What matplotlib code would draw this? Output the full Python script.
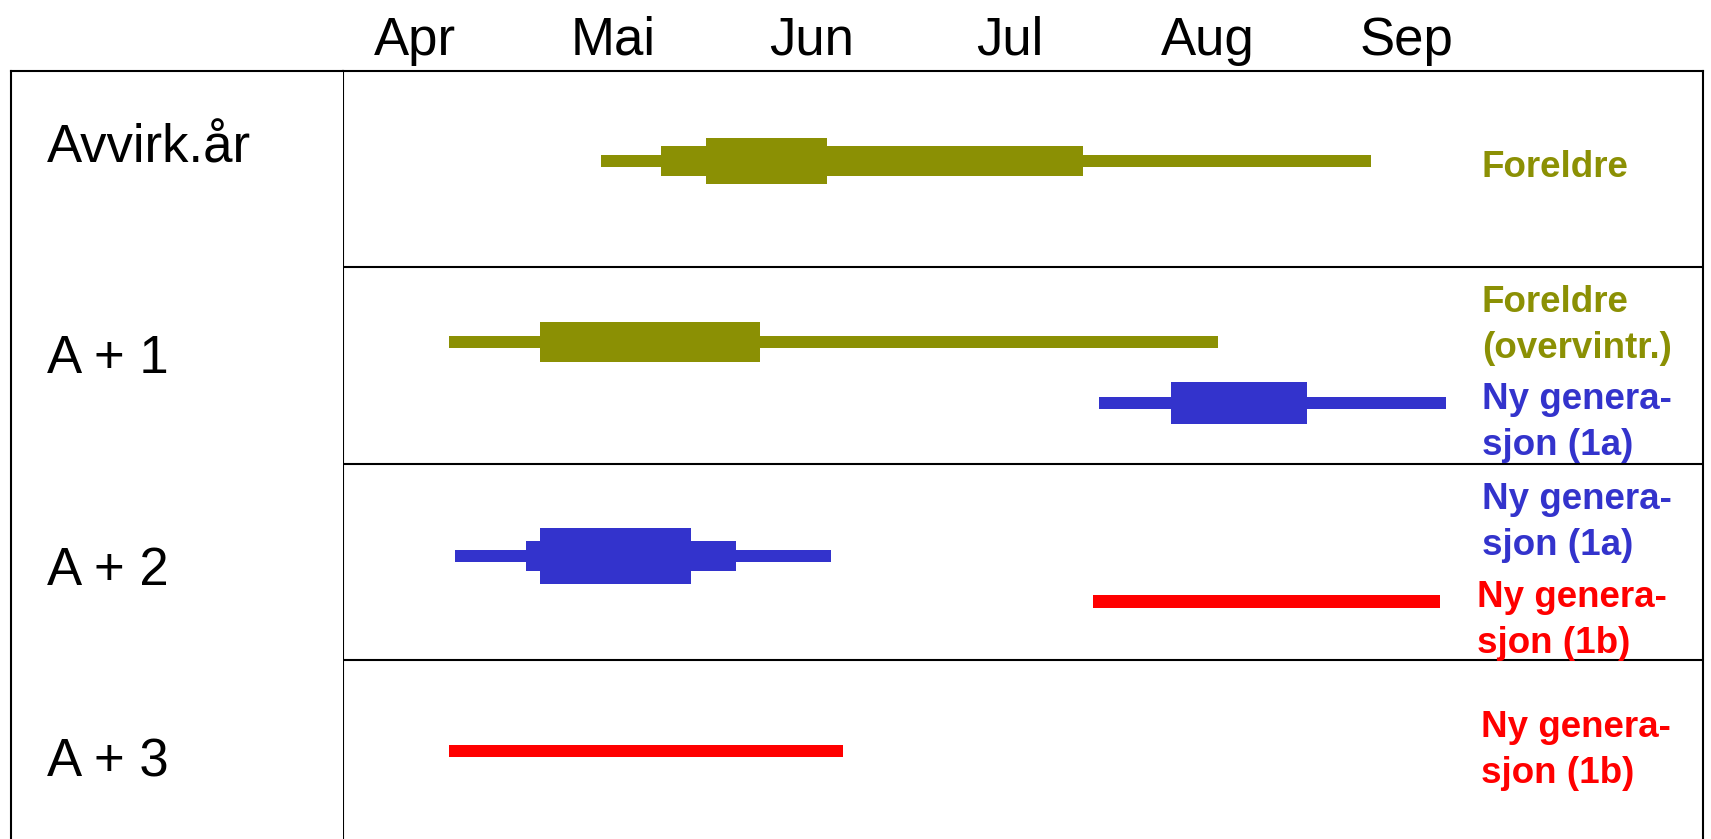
import matplotlib
matplotlib.use("Agg")
import matplotlib.pyplot as plt

plt.rcParams['font.family'] = ['Liberation Sans', 'DejaVu Sans']

# months on the time axis (Apr = 4 ... Sep = 9)
months = ['Apr', 'Mai', 'Jun', 'Jul', 'Aug', 'Sep']
month_pos = [4, 5, 6, 7, 8, 9]

# rows (years) on the left
row_labels = ['Avvirk.år', 'A + 1', 'A + 2', 'A + 3']
row_label_y = [0.466, 1.539, 2.616, 3.591]

# each series: vertical position, colour, label, and segments (start, end, bar height)
series_y = [0.46, 1.38, 1.69, 2.47, 2.70, 3.46]
series_colour = ['#8B9004', '#8B9004', '#3333CC', '#3333CC', '#FF0000', '#FF0000']
series_label = ['Foreldre', 'Foreldre\n(overvintr.)', 'Ny genera-\nsjon (1a)',
                'Ny genera-\nsjon (1a)', 'Ny genera-\nsjon (1b)', 'Ny genera-\nsjon (1b)']
label_x = [9.38, 9.38, 9.38, 9.38, 9.355, 9.375]
# baseline of the last line of each label
label_y = [0.539, 1.461, 1.955, 2.463, 2.962, 3.625]
seg_start = [[4.94, 5.24, 5.47], [4.17, 4.63], [7.45, 7.81],
             [4.20, 4.56, 4.63], [7.42], [4.17]]
seg_end = [[8.82, 7.37, 6.08], [8.05, 5.74], [9.20, 8.50],
           [6.10, 5.62, 5.39], [9.17], [6.16]]
seg_height = [[0.063, 0.156, 0.232], [0.063, 0.202], [0.063, 0.212],
              [0.063, 0.153, 0.285], [0.063], [0.063]]

W, H = 1711, 839
fig = plt.figure(figsize=(W / 100, H / 100), dpi=100)
fig.patch.set_facecolor('white')

top = (H - 70.7) / H
ax = fig.add_axes([343 / W, 0, (1703 - 343) / W, top])
lab = fig.add_axes([11 / W, 0, (343 - 11) / W, top])

ax.set_xlim(3.637, 10.495)
ax.set_ylim(3.908, 0)
lab.set_xlim(0, 1)
lab.set_ylim(3.908, 0)

# chart area
ax.xaxis.tick_top()
ax.set_xticks(month_pos, months, fontsize=38)
ax.tick_params(axis='x', length=0, pad=3.5)
ax.set_yticks([])
ax.spines['bottom'].set_visible(False)
for s in ['left', 'top', 'right']:
    ax.spines[s].set_linewidth(1.5)
for b in [1, 2, 3]:
    ax.axhline(b, color='black', lw=1.5)

for y, c, starts, ends, hts in zip(series_y, series_colour, seg_start, seg_end, seg_height):
    for s, e, h in zip(starts, ends, hts):
        ax.barh(y, e - s, left=s, height=h, color=c, linewidth=0)

for x, y, c, t in zip(label_x, label_y, series_colour, series_label):
    ax.text(x, y, t, color=c, fontsize=26.5, fontweight='bold',
            va='baseline', ha='left', linespacing=1.41)

# left label column
lab.set_xticks([])
lab.set_yticks([])
lab.spines['bottom'].set_visible(False)
lab.spines['right'].set_visible(False)
for s in ['left', 'top']:
    lab.spines[s].set_linewidth(1.5)
for y, t in zip(row_label_y, row_labels):
    lab.text(0.107, y, t, fontsize=38, va='baseline', ha='left')

fig.savefig('out.png', dpi=100)
